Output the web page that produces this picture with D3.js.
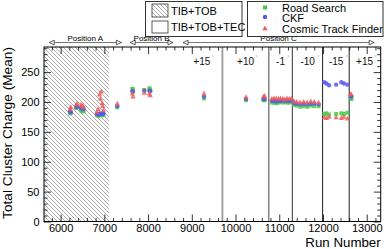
<!DOCTYPE html>
<html>
<head>
<meta charset="utf-8">
<script src="https://cdn.jsdelivr.net/npm/d3@7"></script>
<style>
  body { margin: 0; background: #fff; }
  svg { display: block; font-family: 'Liberation Sans', Arial, Helvetica, sans-serif; }
</style>
</head>
<body>
<div id="root"></div>
<script>
const runNumbers = [
    6215, 6235, 6355, 6375, 6465, 6485, 6505, 6525,
    6830, 6860, 6890, 6910, 6930, 6950, 6965, 6980,
    7295, 7640, 7655, 7913, 8030, 8050,
    9280, 10240, 10640, 10665,
    10830, 10880, 10930, 10980, 11030, 11080, 11130, 11180, 11230, 11280,
    11340, 11400, 11480, 11560, 11640, 11720, 11800, 11900,
    12030, 12080, 12140, 12300, 12420, 12480, 12560,
    12630, 12650,
];
const roadSearch = [
    181, 182, 190, 191, 186, 185, 187, 184,
    178, 177, 178, 179, 178, 178, 179, 178,
    191, 222, 221, 220, 223, 221,
    206, 203, 203, 203,
    199, 199, 198, 199, 200, 199, 200, 199, 199, 200,
    195, 194, 192, 193, 192, 194, 193, 193,
    180, 181, 179, 180, 181, 180, 182,
    206, 205,
];
const ckf = [
    184, 183, 192, 192, 190, 189, 190, 188,
    180, 179, 180, 180, 181, 180, 180, 181,
    193, 218, 217, 219, 219, 218,
    209, 205, 205, 205,
    202, 202, 201, 202, 202, 203, 202, 202, 202, 203,
    198, 197, 196, 197, 196, 197, 197, 196,
    233, 231, 228, 229, 233, 231, 229,
    210, 209,
];
const cosmicTF = [
    188, 191, 195, 197, 195, 194, 193, 191,
    183, 188, 212, 205, 217, 198, 193, 186,
    197, 214, 209, 215, 214, 211,
    214, 208, 209, 210,
    205, 206, 206, 205, 206, 205, 204, 206, 205, 206,
    201, 200, 199, 200, 199, 201, 200, 199,
    174, 173, 175, 174, 173, 175, 172,
    213, 212,
];

const yTicks = [0, 50, 100, 150, 200, 250];
const xTicks = [6000, 7000, 8000, 9000, 10000, 11000, 12000, 13000];

// detector positions along the run axis
const positionNames = ['Position A', 'Position B', 'Position C'];
const positionStart = [5740, 7590, 8800];
const positionEnd = [7390, 8570, 13170];

// rotation changes (vertical lines) and their labels
const rotationRuns = [9700, 10760, 11300, 11990, 12600];
const rotationLabels = ['+15', '+10', '-1', '-10', '-15', '+15'];
const rotationLabelRuns = [9230, 10230, 11030, 11650, 12300, 12950];

const tibTobEnd = 7105;

const width = 388;
const height = 249;
const margin = { left: 44, right: 7.3, top: 47, bottom: 27.5 };

const x = d3.scaleLinear().domain([5620, 13320]).range([margin.left, width - margin.right]);
const y = d3.scaleLinear().domain([0, 292]).range([height - margin.bottom, margin.top]);

const svg = d3.select('#root').append('svg')
    .attr('width', width)
    .attr('height', height);

const defs = svg.append('defs');
const pat = defs.append('pattern')
    .attr('id', 'hatch')
    .attr('patternUnits', 'userSpaceOnUse')
    .attr('width', 4)
    .attr('height', 4);
pat.append('path')
    .attr('d', 'M-1,-1 L5,5 M-1,3 L1,5 M3,-1 L5,1')
    .attr('stroke', '#8a8a8a')
    .attr('stroke-width', 0.7);

const x0 = x.range()[0];
const x1 = x.range()[1];
const y0 = y.range()[0];
const y1 = y.range()[1];

// hatched TIB+TOB region
svg.append('rect')
    .attr('x', x0)
    .attr('y', y1)
    .attr('width', x(tibTobEnd) - x0)
    .attr('height', y0 - y1)
    .attr('fill', 'url(#hatch)');

// rotation lines
const lineColors = ['#9a9a9a', '#808080', '#555', '#333', '#333'];
const lineWidths = [1.8, 1.5, 1.2, 1.1, 1.1];
svg.append('g').selectAll('line')
    .data(rotationRuns)
    .join('line')
    .attr('x1', d => x(d))
    .attr('x2', d => x(d))
    .attr('y1', y1)
    .attr('y2', y0)
    .attr('stroke', (d, k) => lineColors[k])
    .attr('stroke-width', (d, k) => lineWidths[k]);

const rot = svg.append('g').selectAll('g')
    .data(rotationLabels)
    .join('g')
    .attr('transform', (d, k) => `translate(${x(rotationLabelRuns[k])},65)`);
rot.append('text')
    .attr('text-anchor', 'middle')
    .style('font-size', '10px')
    .attr('fill', '#111')
    .text(d => d);
rot.append('text')
    .attr('x', d => d.length * 2.9 + 1)
    .attr('y', -6)
    .style('font-size', '6px')
    .attr('fill', '#aaa')
    .text('°');

// axes, ROOT style: inward ticks on all four sides
function styleAxis(g) {
    g.select('.domain').remove();
    g.selectAll('line').attr('stroke', '#000').attr('stroke-width', 0.8);
    g.selectAll('text').style('font-size', '11px').attr('fill', '#000');
}

const xMinor = d3.range(5800, 13320, 200).filter(v => v % 1000 !== 0);
const yMinor = d3.range(10, 292, 10).filter(v => v % 50 !== 0);

svg.append('g')
    .attr('transform', `translate(0,${y0})`)
    .call(d3.axisBottom(x).tickValues(xTicks).tickSize(-7).tickPadding(3).tickFormat(d3.format('d')))
    .call(styleAxis);
svg.append('g')
    .attr('transform', `translate(0,${y0})`)
    .call(d3.axisBottom(x).tickValues(xMinor).tickSize(-3.5).tickFormat(''))
    .call(styleAxis);
svg.append('g')
    .attr('transform', `translate(0,${y1})`)
    .call(d3.axisTop(x).tickValues(xTicks).tickSize(-7).tickFormat(''))
    .call(styleAxis);
svg.append('g')
    .attr('transform', `translate(0,${y1})`)
    .call(d3.axisTop(x).tickValues(xMinor).tickSize(-3.5).tickFormat(''))
    .call(styleAxis);

svg.append('g')
    .attr('transform', `translate(${x0},0)`)
    .call(d3.axisLeft(y).tickValues(yTicks).tickSize(-7).tickPadding(4.5))
    .call(styleAxis);
svg.append('g')
    .attr('transform', `translate(${x0},0)`)
    .call(d3.axisLeft(y).tickValues(yMinor).tickSize(-3.5).tickFormat(''))
    .call(styleAxis);
svg.append('g')
    .attr('transform', `translate(${x1},0)`)
    .call(d3.axisRight(y).tickValues(yTicks).tickSize(-7).tickFormat(''))
    .call(styleAxis);
svg.append('g')
    .attr('transform', `translate(${x1},0)`)
    .call(d3.axisRight(y).tickValues(yMinor).tickSize(-3.5).tickFormat(''))
    .call(styleAxis);

svg.append('rect')
    .attr('x', x0)
    .attr('y', y1)
    .attr('width', x1 - x0)
    .attr('height', y0 - y1)
    .attr('fill', 'none')
    .attr('stroke', '#000')
    .attr('stroke-width', 1);

// axis titles
svg.append('text')
    .attr('x', x1)
    .attr('y', 246.5)
    .attr('text-anchor', 'end')
    .style('font-size', '13.3px')
    .text('Run Number');
svg.append('text')
    .attr('transform', `translate(12,${y1}) rotate(-90)`)
    .attr('text-anchor', 'end')
    .style('font-size', '13.7px')
    .text('Total Cluster Charge (Mean)');

// position arrows above the frame
function tri(tipX, yy, dir) {
    const l = 5;
    const h = 2.3;
    return `M${tipX},${yy} L${tipX - dir * l},${yy - h} L${tipX - dir * l},${yy + h} Z`;
}
const pos = svg.append('g').selectAll('g')
    .data(positionNames)
    .join('g');
pos.append('line')
    .attr('x1', (d, k) => x(positionStart[k]))
    .attr('x2', (d, k) => x(positionEnd[k]))
    .attr('y1', 42.5)
    .attr('y2', 42.5)
    .attr('stroke', '#777')
    .attr('stroke-width', 1);
pos.append('path')
    .attr('d', (d, k) => tri(x(positionStart[k]), 42.5, -1))
    .attr('fill', '#fff')
    .attr('stroke', '#333')
    .attr('stroke-width', 0.8);
pos.append('path')
    .attr('d', (d, k) => tri(x(positionEnd[k]), 42.5, 1))
    .attr('fill', '#fff')
    .attr('stroke', '#333')
    .attr('stroke-width', 0.8);
pos.append('text')
    .attr('x', (d, k) => (x(positionStart[k]) + x(positionEnd[k])) / 2)
    .attr('y', 41)
    .attr('text-anchor', 'middle')
    .style('font-size', '8px')
    .text(d => d);

// markers
const green = '#44cc44';
const blue = '#5858ee';
const red = '#ee5a5a';
const triPath = 'M0,-3 L2.6,1.8 L-2.6,1.8 Z';

const points = svg.append('g');
points.selectAll('rect')
    .data(runNumbers)
    .join('rect')
    .attr('x', (d, k) => x(d) - 2)
    .attr('y', (d, k) => y(roadSearch[k]) - 2)
    .attr('width', 4)
    .attr('height', 4)
    .attr('fill', green)
    .attr('fill-opacity', 0.85);
points.selectAll('circle')
    .data(runNumbers)
    .join('circle')
    .attr('cx', d => x(d))
    .attr('cy', (d, k) => y(ckf[k]))
    .attr('r', 2.2)
    .attr('fill', blue)
    .attr('fill-opacity', 0.85);
points.selectAll('path')
    .data(runNumbers)
    .join('path')
    .attr('transform', (d, k) => `translate(${x(d)},${y(cosmicTF[k])})`)
    .attr('d', triPath)
    .attr('fill', red)
    .attr('fill-opacity', 0.85);

// legend 1: detector configuration
const leg1 = svg.append('g');
leg1.append('rect')
    .attr('x', 145.5).attr('y', 1.5).attr('width', 96.5).attr('height', 35)
    .attr('fill', '#fff').attr('stroke', '#333').attr('stroke-width', 1);
leg1.append('rect')
    .attr('x', 152).attr('y', 4).attr('width', 16).attr('height', 13)
    .attr('fill', 'url(#hatch)').attr('stroke', '#333').attr('stroke-width', 0.8);
leg1.append('rect')
    .attr('x', 152).attr('y', 21).attr('width', 16).attr('height', 12)
    .attr('fill', '#fff').attr('stroke', '#333').attr('stroke-width', 0.8);
leg1.append('text').attr('x', 171).attr('y', 15).style('font-size', '11px').text('TIB+TOB');
leg1.append('text').attr('x', 171).attr('y', 31).style('font-size', '11px').text('TIB+TOB+TEC');

// legend 2: tracking algorithms
const leg2 = svg.append('g');
leg2.append('rect')
    .attr('x', 247.5).attr('y', 1.5).attr('width', 135.5).attr('height', 35)
    .attr('fill', '#fff').attr('stroke', '#333').attr('stroke-width', 1);
leg2.append('rect').attr('x', 263).attr('y', 5.5).attr('width', 4).attr('height', 4).attr('fill', green);
leg2.append('circle').attr('cx', 265).attr('cy', 17).attr('r', 2.2).attr('fill', blue);
leg2.append('path').attr('transform', 'translate(265,28.5)').attr('d', triPath).attr('fill', red);
leg2.append('text').attr('x', 282).attr('y', 11.5).style('font-size', '11px').text('Road Search');
leg2.append('text').attr('x', 282).attr('y', 22).style('font-size', '11px').text('CKF');
leg2.append('text').attr('x', 282).attr('y', 32.5).style('font-size', '11px').text('Cosmic Track Finder');
</script>
</body>
</html>
